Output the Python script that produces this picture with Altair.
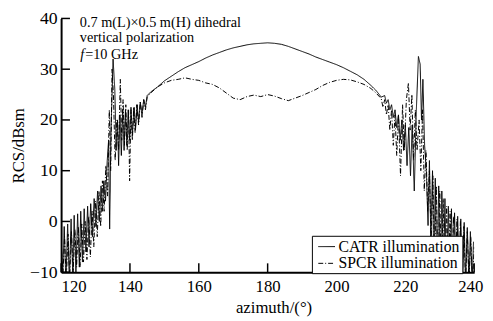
import altair as alt
import pandas as pd

# ---------------- data ----------------
series_names = ["CATR illumination", "SPCR illumination"]

catr_az = [120.0, 120.4, 120.9, 121.4, 121.9, 122.4, 122.9, 123.4, 123.8, 124.3,
           124.8, 125.3, 125.7, 126.2, 126.7, 127.2, 127.7, 128.1, 128.6, 129.1,
           129.6, 130.1, 130.6, 131.1, 131.6, 132.0, 132.4, 132.9, 133.4, 133.8,
           134.1, 134.5, 135.1, 135.6, 136.0, 136.4, 136.7, 137.1, 137.5, 137.9,
           138.3, 138.7, 139.1, 139.5, 139.9, 140.3, 140.7, 141.2, 141.6, 142.1,
           142.5, 143.0, 143.5, 144.0, 144.5, 145.0, 146, 148, 150, 152,
           154, 156, 158, 160, 162, 164, 166, 168, 170, 172,
           174, 176, 178, 180, 182, 184, 186, 188, 190, 192,
           194, 196, 198, 200, 202, 204, 206, 208, 210, 211.5,
           213, 214, 214.5, 215, 215.5, 216, 216.5, 217, 217.5, 218,
           218.5, 219, 219.5, 220, 220.5, 221, 221.5, 222, 222.6, 223.2,
           223.8, 224.3, 224.7, 225.1, 225.6, 226.1, 226.6, 227.0, 227.4, 227.9,
           228.3, 228.7, 229.2, 229.7, 230.2, 230.6, 231.1, 231.5, 232.0, 232.5,
           232.9, 233.4, 233.8, 234.3, 234.8, 235.2, 235.7, 236.1, 236.6, 237.1,
           237.5, 238.0, 238.5, 238.9, 239.4, 239.8]
catr_rcs = [-2, -12, -1, -12, -0.5, -12, 0.5, -11, 1.2, -10,
            1.5, -9, 2, -8, 2.5, -6, 3, -5, 3.5, -3,
            4.5, -1, 6, 0, 7, 2, 8, 4, 12, 16,
            -1.5, 18, 32, 26, 14, 20, 11, 21, 13, 22,
            14, 22, 15, 22, 16, 22.5, 17, 22.5, 18, 23,
            19.5, 23.5, 21, 24, 22.5, 24.8, 25.5, 26.5, 27.7, 28.6,
            29.5, 30.3, 30.9, 31.5, 32.2, 32.8, 33.3, 33.8, 34.2, 34.5,
            34.8, 35.0, 35.1, 35.2, 35.1, 34.9, 34.5, 34.0, 33.5, 33.0,
            32.4, 31.9, 31.4, 30.9, 30.3, 29.6, 28.9, 28.0, 26.8, 25.8,
            24.5, 24.8, 23.3, 24, 22, 23, 20.5, 22, 18.5, 21,
            16, 20, 14, 19, 11, 18.5, 9, 19, 6, 22,
            32.5, 31, 20, 28, 15, 10, -0.8, 12, -3, 10,
            -10, 8.5, -12, 7, -12, 6, -12, 4.5, -12, 3,
            -12, 2.5, -12, 1.7, -12, 1, -12, 0.5, -12, -0.2,
            -12, -1.2, -12, -2, -12, -4]

spcr_az = [120.0, 120.5, 121.0, 121.5, 122.0, 122.5, 123.0, 123.5, 124.0, 124.5,
           125.0, 125.5, 126.0, 126.5, 127.0, 127.5, 128.0, 128.5, 129.0, 129.5,
           130.0, 130.5, 131.0, 131.5, 132.0, 132.5, 133.0, 133.5, 134.0, 134.4,
           134.8, 135.2, 135.7, 136.2, 136.7, 137.2, 137.6, 138.0, 138.4, 138.8,
           139.2, 139.6, 139.9, 140.3, 140.7, 141.1, 141.5, 142.0, 142.5, 143.0,
           143.5, 144.0, 144.5, 145.0, 146, 148, 150, 152, 154, 156,
           158, 160, 162, 164, 166, 168, 170, 172, 174, 176,
           178, 180, 182, 184, 186, 188, 190, 192, 194, 196,
           198, 200, 202, 204, 206, 208, 210, 211.5, 213, 213.5,
           214, 214.5, 215, 215.5, 216, 216.5, 217, 217.5, 218, 218.6,
           219.2, 219.7, 220.3, 220.9, 221.4, 221.9, 222.4, 222.9, 223.4, 224,
           224.5, 225, 225.5, 226, 226.5, 227, 227.5, 228, 228.5, 229,
           229.5, 230, 230.5, 231, 231.5, 232, 232.5, 233, 233.5, 234,
           234.5, 235, 235.5, 236, 236.5, 237, 237.5, 238, 238.5, 239,
           239.5, 240]
spcr_rcs = [-4, -11, -3, -12, -2.5, -11, -2, -10, -1.5, -9,
            -1, -9, -0.5, -8, 0, -7.5, 1, -7, 2, -5,
            4, -3, 6, -1, 8, 2, 11, 5, 22, 10,
            30, 25, 12, 20, 14, 28, 16, 24, 15, 23,
            14, 22, 8, 22, 16, 22.5, 17.5, 23, 19, 23.5,
            20.5, 24, 22, 24.5, 25.3, 26.5, 27.3, 27.8, 28.0, 28.3,
            28.0, 27.8, 27.3, 27.0, 26.3, 25.3, 24.3, 24.0, 24.6, 24.9,
            24.6, 25.0, 24.7, 24.2, 23.8, 24.3, 24.8, 25.4, 26.0, 26.8,
            27.4, 27.8, 28.0, 27.9, 27.5, 27.0, 26.2, 25.3, 24.2, 22.5,
            24, 21, 23, 18, 22, 15, 21, 13, 21, 9,
            23, 14, 24, 27.3, 18, 25, 12, 22, 14, 20,
            10, 22, 6, 14, 2, 10, -4, 9, -8, 7,
            -12, 6, -12, 4.5, -12, 3, -12, 2, -12, 1,
            -12, 0.5, -12, 0, -12, -1, -12, -2, -12, -3,
            -12, -5]

x_tick_values = [120, 140, 160, 180, 200, 220, 240]
y_tick_values = [-10, 0, 10, 20, 30, 40]

annotation_lines = ["0.7 m(L)\u00d70.5 m(H) dihedral", "vertical polarization"]
freq_symbol = "f"
freq_text = "=10 GHz"

# ---------------- build chart ----------------
df = pd.concat([
    pd.DataFrame({"azimuth": catr_az, "rcs": catr_rcs, "series": series_names[0]}),
    pd.DataFrame({"azimuth": spcr_az, "rcs": spcr_rcs, "series": series_names[1]}),
], ignore_index=True)

SERIF = "Liberation Serif"
x_scale = alt.Scale(domain=[120, 240], nice=False, zero=False)
y_scale = alt.Scale(domain=[-10, 40], nice=False, zero=False)

x_axis = alt.Axis(values=x_tick_values, title="azimuth/(\u00b0)", labelFlush=False,
                  labelAlign={"condition": {"test": "datum.value == 120", "value": "left"},
                              "value": "center"},
                  labelOffset={"condition": {"test": "datum.value == 240", "value": -4},
                               "value": 0},
                  labelPadding=7, labelFontSize=17,
                  titleFontSize=17, titleBaseline="alphabetic", titleY=41, titleX=216)
y_axis = alt.Axis(values=y_tick_values, title="RCS/dBsm", labelPadding=4,
                  labelFontSize=18, titleFontSize=17, titleAngle=270,
                  titleBaseline="alphabetic", titleAlign="center",
                  titleX=-38, titleY=129)

lines = alt.Chart(df).mark_line(clip=True, strokeWidth=1, color="black").encode(
    x=alt.X("azimuth:Q", scale=x_scale, axis=x_axis),
    y=alt.Y("rcs:Q", scale=y_scale, axis=y_axis),
    strokeDash=alt.StrokeDash(
        "series:N",
        scale=alt.Scale(domain=series_names, range=[[1, 0], [5, 2, 1, 2]]),
        legend=alt.Legend(title=None, orient="none", legendX=255, legendY=221,
                          fillColor="white", strokeColor="black", padding=2,
                          symbolType="stroke", symbolSize=289, symbolStrokeWidth=1,
                          symbolStrokeColor="black", symbolOffset=4,
                          labelFont=SERIF, labelFontSize=16, labelOffset=3,
                          labelColor="black", rowPadding=0)),
)

ytick_df = pd.DataFrame({"rcs": y_tick_values})
xtick_df = pd.DataFrame({"azimuth": x_tick_values})

y_ticks = alt.Chart(ytick_df).mark_rule(color="black", strokeWidth=1.5).encode(
    y=alt.Y("rcs:Q", scale=y_scale, axis=y_axis),
    x=alt.value(0), x2=alt.value(9))
x_ticks = alt.Chart(xtick_df).mark_rule(color="black", strokeWidth=1.5).encode(
    x=alt.X("azimuth:Q", scale=x_scale, axis=x_axis),
    y=alt.value(258), y2=alt.value(249))

def label(text, x, y, italic=False):
    return alt.Chart(pd.DataFrame({"t": [text]})).mark_text(
        align="left", baseline="alphabetic", font=SERIF, fontSize=14.5, color="black",
        fontStyle="italic" if italic else "normal"
    ).encode(x=alt.value(x), y=alt.value(y), text="t:N")

texts = [
    label(annotation_lines[0], 19, 8.5),
    label(annotation_lines[1], 19, 24),
    label(freq_symbol, 19.5, 41.5, italic=True),
    label(freq_text, 24.5, 41.5),
]

chart = alt.layer(lines, y_ticks, x_ticks, *texts).properties(
    width=420, height=258,
    autosize=alt.AutoSizeParams(type="none"),
    padding={"left": 54, "top": 8, "right": 11, "bottom": 47},
).configure_view(stroke=None).configure_axis(
    grid=False, ticks=False, domainColor="black", domainWidth=2,
    labelFont=SERIF, titleFont=SERIF, labelColor="black", titleColor="black",
    titleFontWeight="normal",
)

chart.save("out.html", embed_options={"renderer": "svg", "actions": False})
